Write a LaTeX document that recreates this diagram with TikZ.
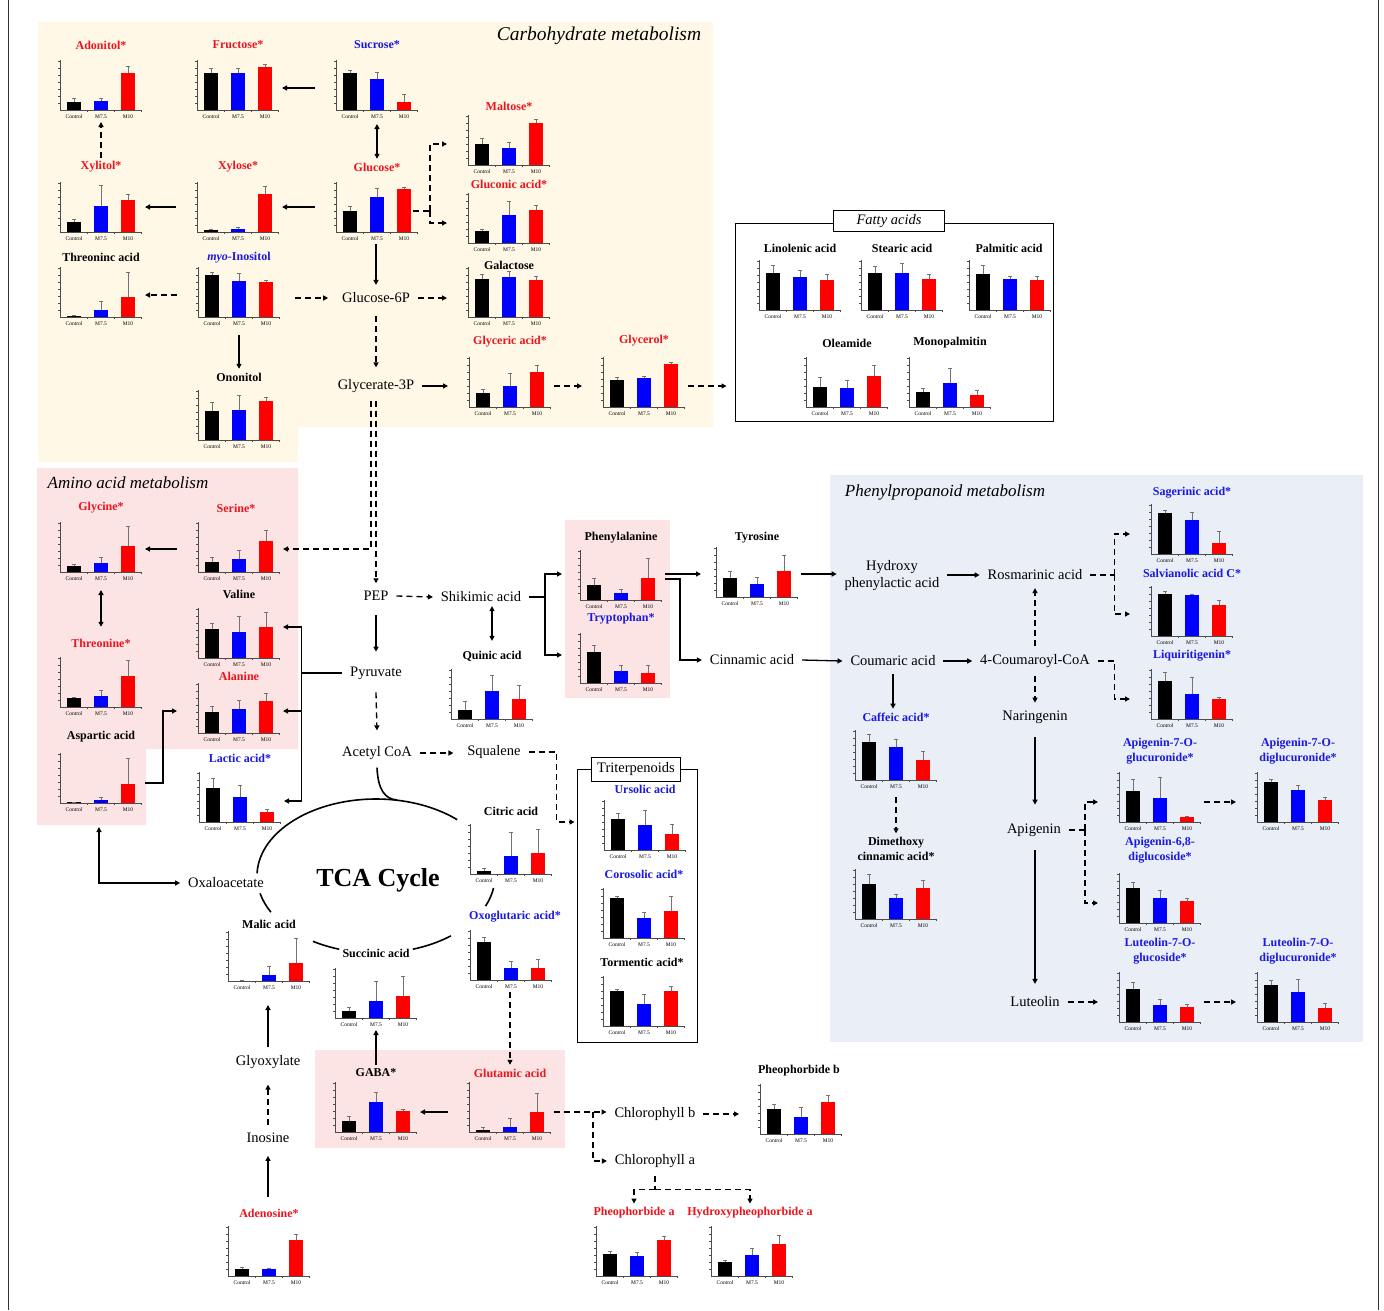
\documentclass[tikz,border=0pt]{standalone}
\usepackage{fontspec}
\setmainfont{Liberation Serif}
\usetikzlibrary{arrows.meta}
\definecolor{cream}{RGB}{255,248,231}
\definecolor{pinkbg}{RGB}{253,228,228}
\definecolor{bluebg}{RGB}{233,238,247}
\definecolor{tred}{RGB}{235,20,30}
\definecolor{tblue}{RGB}{25,25,225}
\definecolor{bred}{RGB}{255,0,0}
\definecolor{bblue}{RGB}{0,0,255}
\newcommand{\bchart}[9]{%
  \node[chartnode] (#1) at ({#2+18},{#3-20}) {};
  \fill[black] ({#2-7},{#3}) rectangle ({#2+7},{#3-#4});
  \fill[bblue] ({#2+20},{#3}) rectangle ({#2+34},{#3-#6});
  \fill[bred] ({#2+47},{#3}) rectangle ({#2+61},{#3-#8});
  \draw[err] ({#2},{#3-#4}) -- ({#2},{#3-#5}) ({#2-2},{#3-#5}) -- ({#2+2},{#3-#5});
  \draw[err] ({#2+27},{#3-#6}) -- ({#2+27},{#3-#7}) ({#2+25},{#3-#7}) -- ({#2+29},{#3-#7});
  \draw[err] ({#2+54},{#3-#8}) -- ({#2+54},{#3-#9}) ({#2+52},{#3-#9}) -- ({#2+56},{#3-#9});
  \draw[axis] ({#2-14},{#3-50}) -- ({#2-14},{#3}) -- ({#2+68},{#3});
  \foreach \k in {1,...,7}{\draw[axis] ({#2-14},{#3-\k*7}) -- ({#2-16},{#3-\k*7});}
  \foreach \k in {1,2,3}{\draw[axis] ({#2-14+\k*27},{#3}) -- ({#2-14+\k*27},{#3+2});}
  \node[xl] (#1-a) at ({#2},{#3+7}) {Control};
  \node[xl] (#1-b) at ({#2+27},{#3+7}) {M7.5};
  \node[xl] (#1-c) at ({#2+54},{#3+7}) {M10};
}
\begin{document}
\begin{tikzpicture}[x=1pt,y=-1pt,
  arr/.style={line width=1.3pt,-{Triangle[length=5pt,width=5pt]}},
  arr2/.style={line width=1.3pt,{Triangle[length=5pt,width=5pt]}-{Triangle[length=5pt,width=5pt]}},
  darr/.style={arr,dash pattern=on 6pt off 4pt},
  dline/.style={line width=1.3pt,dash pattern=on 6pt off 4pt},
  sline/.style={line width=1.3pt},
  cyc/.style={line width=1.6pt},
  met/.style={font=\fontsize{14.5}{17}\selectfont,inner sep=2pt,outer sep=6pt,align=center},
  ttl/.style={font=\fontsize{12}{15}\selectfont\bfseries,inner sep=1pt,outer sep=3pt,align=center},
  xl/.style={font=\fontsize{5.5}{6}\selectfont,inner sep=0pt},
  axis/.style={line width=0.5pt,black!70},
  err/.style={line width=0.5pt,black!55},
  chartnode/.style={minimum width=106pt,minimum height=64pt,inner sep=0pt,outer sep=0pt},
  bigt/.style={font=\fontsize{17}{20}\selectfont\itshape,inner sep=0pt}
]
\useasboundingbox (0,0) rectangle (1384,1310);
\fill[white] (0,0) rectangle (1384,1310);
\draw[line width=1pt,black!80] (8,0) -- (8,1310);
\draw[line width=1pt,black!80] (1378,0) -- (1378,1310);

% background regions
\fill[cream] (38,22) -- (713,22) -- (713,427) -- (298,427) -- (298,462) -- (38,462) -- cycle;
\fill[pinkbg] (37,468) -- (298,468) -- (298,749) -- (146,749) -- (146,825) -- (37,825) -- cycle;
\fill[pinkbg] (565,520) rectangle (670,698);
\fill[pinkbg] (315,1050) rectangle (565,1148);
\fill[bluebg] (830,475) rectangle (1363,1042);

% boxes
\node[draw,line width=0.9pt,minimum width=318pt,minimum height=198pt,inner sep=0pt] (fatty) at (894,322) {};
\node[draw,fill=white,line width=0.9pt,minimum width=111pt,minimum height=21pt,inner sep=0pt,font=\fontsize{14.5}{16}\selectfont\itshape] (fattyl) at (889,221) {Fatty acids};
\node[draw,line width=0.9pt,minimum width=120pt,minimum height=273pt,inner sep=0pt] (tribox) at (637,905.5) {};
\node[draw,fill=white,line width=0.9pt,minimum width=89pt,minimum height=24pt,inner sep=0pt,font=\fontsize{14.5}{16}\selectfont] (tril) at (636,769) {Triterpenoids};

% big titles
\node[bigt,font=\fontsize{19.5}{22}\selectfont\itshape] (carbt) at (599,36) {Carbohydrate metabolism};
\node[bigt] (aminot) at (128,483) {Amino acid metabolism};
\node[bigt] (phent) at (945,492) {Phenylpropanoid metabolism};
\node[font=\fontsize{26}{30}\selectfont\bfseries,inner sep=0pt] (tcat) at (378,880) {TCA Cycle};

% charts: carbohydrate
\bchart{adonitol}{74}{110}{8}{12}{9}{12}{37}{44}
\bchart{fructose}{211}{110}{37}{42}{37}{42}{43}{46}
\bchart{sucrose}{350}{110}{37}{40}{31}{38}{8}{16}
\bchart{maltose}{482}{165}{21}{27}{17}{23}{42}{46}
\bchart{xylitol}{74}{232}{10}{13}{26}{47}{32}{38}
\bchart{xylose}{211}{232}{2}{3}{3}{5}{38}{46}
\bchart{glucose}{350}{232}{21}{26}{35}{44}{43}{45}
\bchart{gluconic}{482}{243}{12}{14}{28}{42}{33}{38}
\bchart{threoninc}{74}{317}{1}{2}{7}{16}{20}{45}
\bchart{myo}{212}{317}{42}{45}{36}{44}{35}{37}
\bchart{galactose}{482}{317}{38}{43}{40}{46}{37}{41}
\bchart{ononitol}{212}{440}{29}{38}{30}{45}{39}{43}
\bchart{glyceric}{483}{407}{14}{18}{21}{34}{35}{42}
\bchart{glycerol}{617}{407}{27}{30}{29}{31}{43}{45}
% fatty acids
\bchart{linolenic}{773}{310}{37}{45}{33}{40}{30}{36}
\bchart{stearic}{875}{310}{37}{44}{37}{47}{31}{36}
\bchart{palmitic}{983}{310}{36}{45}{31}{34}{30}{34}
\bchart{oleamide}{820}{407}{20}{30}{19}{27}{31}{42}
\bchart{monopalmitin}{923}{407}{15}{19}{24}{39}{12}{17}
% amino acids
\bchart{glycine}{74}{572}{6}{8}{9}{15}{26}{46}
\bchart{serine}{212}{572}{10}{15}{13}{22}{31}{42}
\bchart{valine}{212}{658}{29}{35}{26}{42}{31}{46}
\bchart{threonine}{74}{707}{9}{10}{11}{17}{31}{47}
\bchart{alanine}{212}{733}{21}{27}{24}{33}{32}{40}
\bchart{aspartic}{74}{803}{1}{1}{3}{6}{19}{45}
\bchart{lactic}{213}{822}{34}{44}{25}{37}{10}{13}
% middle
\bchart{phe}{594}{600}{15}{22}{7}{11}{22}{42}
\bchart{trp}{594}{683}{31}{38}{12}{18}{10}{18}
\bchart{quinic}{465}{719}{9}{18}{28}{44}{20}{34}
\bchart{tyrosine}{730}{597}{19}{26}{13}{20}{26}{42}
% phenylpropanoid
\bchart{sagerinic}{1165}{554}{41}{44}{34}{42}{11}{23}
\bchart{salvianolic}{1165}{636}{42}{45}{41}{42}{31}{36}
\bchart{liquiritigenin}{1165}{719}{38}{47}{25}{42}{20}{22}
\bchart{caffeic}{869}{780}{38}{46}{33}{41}{20}{29}
\bchart{dimethoxy}{869}{919}{35}{45}{21}{25}{31}{39}
\bchart{apigg}{1133}{822}{31}{43}{24}{45}{5}{6}
\bchart{apigdg}{1271}{822}{40}{43}{32}{37}{22}{25}
\bchart{apigds}{1133}{923}{35}{41}{25}{33}{22}{25}
\bchart{lutg}{1133}{1022}{33}{40}{17}{23}{15}{18}
\bchart{lutdg}{1271}{1022}{37}{42}{30}{43}{14}{19}
% TCA and bottom
\bchart{citric}{484}{874}{3}{6}{18}{42}{21}{45}
\bchart{oxoglutaric}{484}{980}{38}{43}{12}{19}{12}{21}
\bchart{malic}{242}{981}{0.5}{0.8}{6}{15}{18}{43}
\bchart{succinic}{349}{1018}{7}{11}{17}{37}{22}{42}
\bchart{ursolic}{618}{850}{31}{37}{25}{40}{16}{26}
\bchart{corosolic}{617}{938}{40}{42}{20}{26}{27}{42}
\bchart{tormentic}{617}{1026}{35}{37}{22}{32}{35}{40}
\bchart{gaba}{349}{1132}{11}{16}{30}{40}{21}{23}
\bchart{glutamic}{483}{1132}{2}{5}{5}{14}{20}{39}
\bchart{pheob}{774}{1134}{25}{30}{17}{27}{32}{39}
\bchart{pheoa}{610}{1276}{22}{25}{20}{24}{36}{40}
\bchart{hydroxy}{725}{1276}{14}{16}{21}{28}{32}{41}
\bchart{adenosine}{242}{1276}{7}{9}{7}{8}{36}{42}

% chart titles
\node[ttl,tred] (adonitolt) at (101,45) {Adonitol*};
\node[ttl,tred] (fructoset) at (238,45) {Fructose*};
\node[ttl,tblue] (sucroset) at (377,45) {Sucrose*};
\node[ttl,tred] (maltoset) at (509,106) {Maltose*};
\node[ttl,tred] (xylitolt) at (101,167) {Xylitol*};
\node[ttl,tred] (xyloset) at (238,167) {Xylose*};
\node[ttl,tred] (glucoset) at (377,167) {Glucose*};
\node[ttl,tred] (gluconict) at (509,184) {Gluconic acid*};
\node[ttl] (threoninct) at (101,257) {Threoninc acid};
\node[ttl,tblue] (myot) at (239,258) {{\itshape myo}-Inositol};
\node[ttl] (galactoset) at (509,265) {Galactose};
\node[ttl] (ononitolt) at (239,377) {Ononitol};
\node[ttl,tred] (glycerict) at (510,342) {Glyceric acid*};
\node[ttl,tred] (glycerolt) at (644,341) {Glycerol*};
\node[ttl] (linolenict) at (800,248) {Linolenic acid};
\node[ttl] (stearict) at (902,248) {Stearic acid};
\node[ttl] (palmitict) at (1009,248) {Palmitic acid};
\node[ttl] (oleamidet) at (847,343) {Oleamide};
\node[ttl] (monopalmitint) at (950,343) {Monopalmitin};
\node[ttl,tred] (glycinet) at (101,508) {Glycine*};
\node[ttl,tred] (serinet) at (236,508) {Serine*};
\node[ttl] (valinet) at (239,594) {Valine};
\node[ttl,tred] (threoninet) at (101,643) {Threonine*};
\node[ttl,tred] (alaninet) at (239,676) {Alanine};
\node[ttl] (aspartict) at (101,737) {Aspartic acid};
\node[ttl,tblue] (lactict) at (240,758) {Lactic acid*};
\node[ttl] (phet) at (621,538) {Phenylalanine};
\node[ttl,tblue] (trpt) at (621,619) {Tryptophan*};
\node[ttl] (quinict) at (492,656) {Quinic acid};
\node[ttl] (tyrosinet) at (757,538) {Tyrosine};
\node[ttl,tblue] (sagerinict) at (1192,493) {Sagerinic acid*};
\node[ttl,tblue] (salvianolict) at (1192,573) {Salvianolic acid C*};
\node[ttl,tblue] (liquiritigenint) at (1192,656) {Liquiritigenin*};
\node[ttl,tblue] (caffeict) at (896,717) {Caffeic acid*};
\node[ttl] (dimethoxyt) at (896,849) {Dimethoxy\\cinnamic acid*};
\node[ttl,tblue] (apiggt) at (1160,751) {Apigenin-7-O-\\glucuronide*};
\node[ttl,tblue] (apigdgt) at (1298,751) {Apigenin-7-O-\\diglucuronide*};
\node[ttl,tblue] (apigdst) at (1160,850) {Apigenin-6,8-\\diglucoside*};
\node[ttl,tblue] (lutgt) at (1160,951) {Luteolin-7-O-\\glucoside*};
\node[ttl,tblue] (lutdgt) at (1298,951) {Luteolin-7-O-\\diglucuronide*};
\node[ttl] (citrict) at (511,811) {Citric acid};
\node[ttl,tblue] (oxoglutarict) at (515,917) {Oxoglutaric acid*};
\node[ttl] (malict) at (269,924) {Malic acid};
\node[ttl] (succinict) at (376,953) {Succinic acid};
\node[ttl,tblue] (ursolict) at (645,789) {Ursolic acid};
\node[ttl,tblue] (corosolict) at (644,874) {Corosolic acid*};
\node[ttl] (tormentict) at (642,962) {Tormentic acid*};
\node[ttl] (gabat) at (376,1073) {GABA*};
\node[ttl,tred] (glutamict) at (510,1073) {Glutamic acid};
\node[ttl] (pheobt) at (799,1071) {Pheophorbide b};
\node[ttl,tred] (pheoat) at (634,1213) {Pheophorbide a};
\node[ttl,tred] (hydroxyt) at (750,1213) {Hydroxypheophorbide a};
\node[ttl,tred] (adenosinet) at (269,1213) {Adenosine*};

% metabolite text nodes
\node[met] (g6p) at (376,298) {Glucose-6P};
\node[met] (g3p) at (376,386) {Glycerate-3P};
\node[met] (pep) at (376,596) {PEP};
\node[met] (shik) at (481,597) {Shikimic acid};
\node[met] (pyr) at (376,673) {Pyruvate};
\node[met] (acoa) at (377,753) {Acetyl CoA};
\node[met] (squal) at (494,752) {Squalene};
\node[met] (oxalo) at (226,883) {Oxaloacetate};
\node[met] (glyox) at (268,1062) {Glyoxylate};
\node[met] (inos) at (268,1138) {Inosine};
\node[met] (chlb) at (655,1114) {Chlorophyll b};
\node[met] (chla) at (655,1161) {Chlorophyll a};
\node[met] (hyd) at (892,576) {Hydroxy\\phenylactic acid};
\node[met] (rosm) at (1035,575) {Rosmarinic acid};
\node[met] (cinn) at (752,660) {Cinnamic acid};
\node[met] (coum) at (893,661) {Coumaric acid};
\node[met] (coa4) at (1035,661) {4-Coumaroyl-CoA};
\node[met] (nar) at (1035,717) {Naringenin};
\node[met] (api) at (1034,830) {Apigenin};
\node[met] (lut) at (1035,1002) {Luteolin};

% TCA cycle
\coordinate (tcac) at (376,876);
\draw[cyc] (tcac) ++(182:119 and 77) arc[start angle=182,end angle=313,x radius=119,y radius=77];
\draw[cyc] (tcac) ++(152:119 and 77) arc[start angle=152,end angle=167,x radius=119,y radius=77];
\draw[cyc] (tcac) ++(108:119 and 77) arc[start angle=108,end angle=122,x radius=119,y radius=77];
\draw[cyc] (tcac) ++(51:119 and 77) arc[start angle=51,end angle=72,x radius=119,y radius=77];
\draw[cyc] (tcac) ++(9:119 and 77) arc[start angle=9,end angle=23,x radius=119,y radius=77];
\draw[cyc] (acoa.south) .. controls (378,790) and (385,799) .. (397,800);

% carbohydrate arrows
\draw[arr] ([yshift=2pt]sucrose.west) -- ([yshift=2pt]fructose.east);
\draw[arr2] ([yshift=-2pt]glucoset.north |- sucrose.south) -- (glucoset.north);
\draw[arr] ([yshift=5pt]glucose.west) -- ([yshift=5pt]xylose.east);
\draw[arr] ([yshift=5pt]xylose.west) -- ([yshift=5pt]xylitol.east);
\draw[darr] (xylitolt.north) -- (xylitolt.north |- adonitol.south);
\draw[dline] ([xshift=-8pt,yshift=1pt]glucose.east) -- ++(17,0) coordinate (gj6);
\draw[darr] (gj6) |- ([yshift=1pt]maltose.west);
\draw[darr] (gj6) |- (gluconic.west);
\draw[arr] (g6p.north |- glucose.south) -- (g6p.north);
\draw[darr] ([xshift=12pt]myo.east |- g6p.west) -- ([xshift=-6pt]g6p.west);
\draw[darr] ([yshift=2pt]myo.west) -- ([yshift=2pt]threoninc.east);
\draw[arr] ([yshift=-6pt]ononitolt.north |- myo.south) -- (ononitolt.north);
\draw[darr] (g6p.east) -- (g6p.east -| galactose.west);
\draw[darr] ([yshift=-5pt]g6p.south) -- ([yshift=4pt]g3p.north);
\draw[arr] (g3p.east) -- (g3p.east -| glyceric.west);
\draw[darr] (glyceric.east |- g3p.east) -- (glycerol.west |- g3p.east);
\draw[darr] (glycerol.east |- g3p.east) -- ([xshift=-8pt]fatty.west |- g3p.east);
\draw[darr] ([xshift=-5pt]g3p.south) |- ([yshift=3pt]serine.east);
\draw[darr] (g3p.south) -- (pep.north);

% amino acid arrows
\draw[arr] ([yshift=3pt]serine.west) -- ([yshift=3pt]glycine.east);
\draw[arr2] ([yshift=-6pt]threoninet.north |- glycine.south) -- ([yshift=8pt]threoninet.north);
\draw[sline] (pyr.west) -- ++(-41,0) coordinate (pj);
\draw[arr] (pj) |- ([yshift=11pt]valine.east);
\draw[arr] (pj) |- ([yshift=2pt]alanine.east);
\draw[arr] (pj) |- ([yshift=1pt]lactic.east);
\draw[arr] (aspartic.east) -- ++(18,0) |- ([yshift=2pt]alanine.west);
\draw[arr2] (oxalo.west) -| ([xshift=7pt,yshift=-12pt]aspartic.south);

% middle arrows
\draw[darr] (pep.east) -- (shik.west);
\draw[arr] ([yshift=-6pt]pep.south) -- ([yshift=7pt]pyr.north);
\draw[arr2] ([yshift=4pt]quinict.north |- shik.south) -- ([yshift=6pt]quinict.north);
\draw[sline] (shik.east) -- ++(16,0) coordinate (sj);
\draw[arr] (sj) |- ([xshift=3pt,yshift=6pt]phe.west);
\draw[arr] (sj) |- ([xshift=3pt,yshift=8pt]trp.west);
\draw[arr] ([yshift=6pt]phe.east) -- ([xshift=6pt,yshift=3pt]tyrosine.west);
\draw[arr] ([yshift=1pt]phe.east) -- ++(15,0) |- (cinn.west);
\draw[darr] ([yshift=-5pt]pyr.south) -- ([yshift=8pt]acoa.north);
\draw[darr] (acoa.east) -- ([xshift=-6pt]acoa.east -| squal.west);
\draw[darr] (squal.east) -- ++(28,0) |- ([xshift=-2pt,yshift=83.5pt]tribox.west);

% phenylpropanoid arrows
\draw[arr] ([yshift=3pt]tyrosine.east) -- ([yshift=3pt]tyrosine.east -| hyd.west);
\draw[arr] (cinn.east) -- (coum.west);
\draw[arr] (rosm.west -| hyd.east) -- (rosm.west);
\draw[arr] (coum.east) -- (coa4.west);
\draw[arr] (coum.south) -- (coum.south |- caffeict.north);
\draw[darr] (coa4.north) -- (coa4.north |- rosm.south);
\draw[darr] (coa4.south) -- (coa4.south |- nar.north);
\draw[dline] (rosm.east) -- ++(24,0) coordinate (rj);
\draw[darr] (rj) |- (sagerinic.west);
\draw[darr] (rj) |- ([yshift=2pt]salvianolic.west);
\draw[darr] (coa4.east) -- ++(17,0) |- (liquiritigenin.west);
\draw[arr] ([yshift=-6pt]nar.south) -- ([yshift=11pt]nar.south |- api.north);
\draw[arr] ([yshift=-6pt]api.south -| nar.south) -- ([yshift=5pt]lut.north -| nar.south);
\draw[dline] (api.east) -- ++(16,0) coordinate (aj);
\draw[darr] (aj) |- (apigg.west);
\draw[darr] (aj) |- (apigds.west);
\draw[darr] (apigg.east) -- (apigdg.west);
\draw[darr] (lut.east) -- (lut.east -| lutg.west);
\draw[darr] (lutg.east) -- (lutdg.west);
\draw[darr] ([yshift=-5pt]dimethoxyt.north |- caffeic.south) -- (dimethoxyt.north);

% TCA / bottom arrows
\draw[darr] (glutamict.north |- oxoglutaric.south) -- (glutamict.north);
\draw[arr] (glutamic.west) -- (gaba.east);
\draw[arr] (gabat.north) -- (gabat.north |- succinic.south);
\draw[arr] (glyox.north) -- ([yshift=-12pt]glyox.north |- malic.south);
\draw[darr] (inos.north) -- ([yshift=-8pt]glyox.south);
\draw[arr] ([yshift=8pt]inos.south |- adenosinet.north) -- ([yshift=-5pt]inos.south);
\draw[darr] (glutamic.east) -- ++(39,0) coordinate (gj) -- (gj -| chlb.west);
\draw[darr] (gj) |- (chla.west);
\draw[darr] (chlb.east) -- (chlb.east -| pheob.west);
\draw[dline] (chla.south) -- ++(0,14) coordinate (hj);
\draw[darr] (hj) -| (pheoat.north);
\draw[darr] (hj) -| (hydroxyt.north);
\end{tikzpicture}
\end{document}
